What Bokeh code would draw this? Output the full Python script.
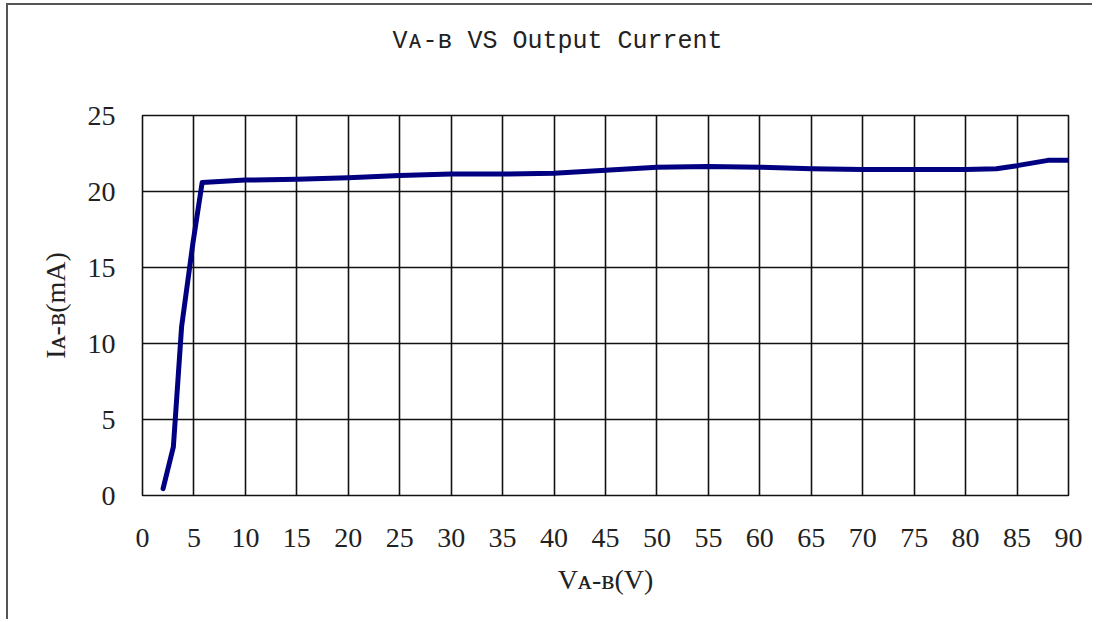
from bokeh.plotting import figure
from bokeh.models import Range1d, FixedTicker, Title
from bokeh.embed import file_html
from bokeh.resources import INLINE

# ---- data ----
v_ab = [2, 3, 3.8, 4.9, 5.8, 10, 15, 20, 25, 30, 35, 40, 45, 50, 55, 60, 65, 70, 75, 80, 83, 85, 88, 90]
i_ab = [0.45, 3.2, 11.1, 16.6, 20.6, 20.75, 20.8, 20.9, 21.05, 21.15, 21.15, 21.2, 21.4, 21.6,
        21.65, 21.6, 21.5, 21.45, 21.45, 21.45, 21.5, 21.7, 22.05, 22.05]
x_ticks = [0, 5, 10, 15, 20, 25, 30, 35, 40, 45, 50, 55, 60, 65, 70, 75, 80, 85, 90]
y_ticks = [0, 5, 10, 15, 20, 25]
title_text = "V\u1d00-\u0299 VS Output Current"
x_label = "V\u1d00-\u0299(V)"
y_label = "I\u1d00-\u0299(mA)"

W, H = 1086, 616
p = figure(width=W, height=H, output_backend="svg", toolbar_location=None,
           x_range=Range1d(0, 90), y_range=Range1d(0, 25),
           min_border_left=134, min_border_right=26, min_border_top=110, min_border_bottom=126)
p.styles = {"border-left": "2px solid #555", "border-top": "2px solid #555",
            "margin-left": "6px", "margin-top": "3px"}

p.background_fill_color = "white"
p.border_fill_color = "white"
p.outline_line_color = "#111111"
p.outline_line_width = 1.6

# spacer panel between the frame and the title (pushes the title upward)
p.add_layout(Title(text=" ", text_font_size="10px", standoff=42), "above")

p.title.text = title_text
p.title.text_font = "Liberation Mono"
p.title.text_font_size = "25px"
p.title.text_font_style = "normal"
p.title.text_color = "#222222"
p.title.align = "left"
p.title.offset = 250
p.title.standoff = 10

for ax in (p.xaxis[0], p.yaxis[0]):
    ax.axis_line_color = None
    ax.major_tick_line_color = None
    ax.minor_tick_line_color = None
    ax.major_label_text_font = "Liberation Serif"
    ax.major_label_text_font_size = "28px"
    ax.major_label_text_color = "#222222"
    ax.axis_label_text_font = "Liberation Serif"
    ax.axis_label_text_font_style = "normal"
    ax.axis_label_text_font_size = "28px"
    ax.axis_label_text_color = "#222222"
p.xaxis.ticker = FixedTicker(ticks=x_ticks)
p.yaxis.ticker = FixedTicker(ticks=y_ticks)
p.xaxis.major_label_standoff = 27
p.yaxis.major_label_standoff = 21
p.xaxis.axis_label = x_label
p.yaxis.axis_label = y_label
p.xaxis.axis_label_standoff = 14
p.yaxis.axis_label_standoff = 14

p.xgrid.ticker = FixedTicker(ticks=x_ticks)
p.ygrid.ticker = FixedTicker(ticks=y_ticks)
for g in (p.xgrid[0], p.ygrid[0]):
    g.grid_line_color = "#111111"
    g.grid_line_width = 1.6

p.line(v_ab, i_ab, line_color="#000080", line_width=5, line_cap="round", line_join="round")

open("out.html", "w").write(file_html(p, INLINE))
